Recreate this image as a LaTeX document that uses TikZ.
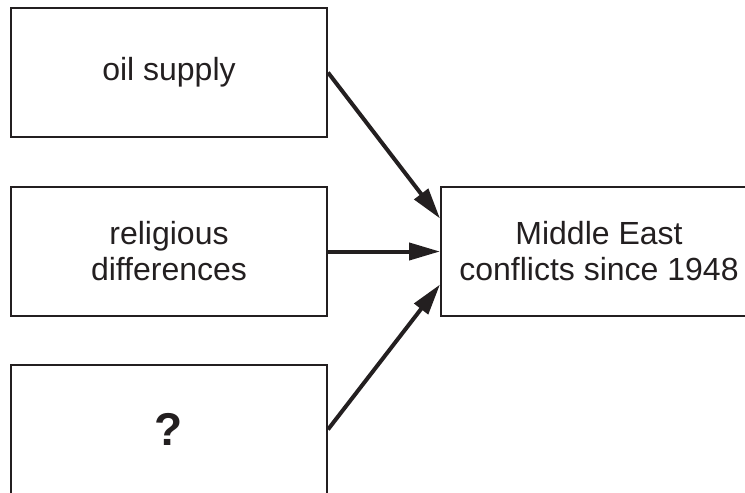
\documentclass[tikz,border=0pt]{standalone}
\usepackage{fontspec}
\setmainfont{Liberation Sans}
\usetikzlibrary{arrows.meta}
\definecolor{ink}{HTML}{231F20}

\begin{document}
\begin{tikzpicture}[
x=0.5pt, y=-0.5pt,
box/.style={draw=ink, line width=1pt, minimum width=158pt, minimum height=64.5pt,
  inner sep=0pt, align=center, text=ink, font=\fontsize{16}{18}\selectfont},
link/.style={-{Triangle[length=15.5pt, width=8.5pt]}, line width=2pt, draw=ink}
]
\useasboundingbox (0,0) rectangle (745,493);
\clip (0,0) rectangle (745,493);

\def\Lx{169}
\def\Rx{599}
\def\off{33}

\node[box] (oil) at (\Lx, 72.5) {oil supply};
\node[box] (religion) at (\Lx, 251.5) {religious\\differences};
\node[box, font=\fontsize{23}{26}\selectfont\bfseries] (unknown) at (\Lx, 429.5) {?};
\node[box] (conflicts) at (\Rx, 251.5) {Middle East\\conflicts since 1948};

\coordinate (inTop) at ([yshift=\off*0.5pt]conflicts.west);
\coordinate (inBot) at ([yshift=-\off*0.5pt]conflicts.west);

\draw[link] (oil.east) -- (inTop);
\draw[link] (religion.east) -- (conflicts.west);
\draw[link] (unknown.east) -- (inBot);
\end{tikzpicture}
\end{document}
